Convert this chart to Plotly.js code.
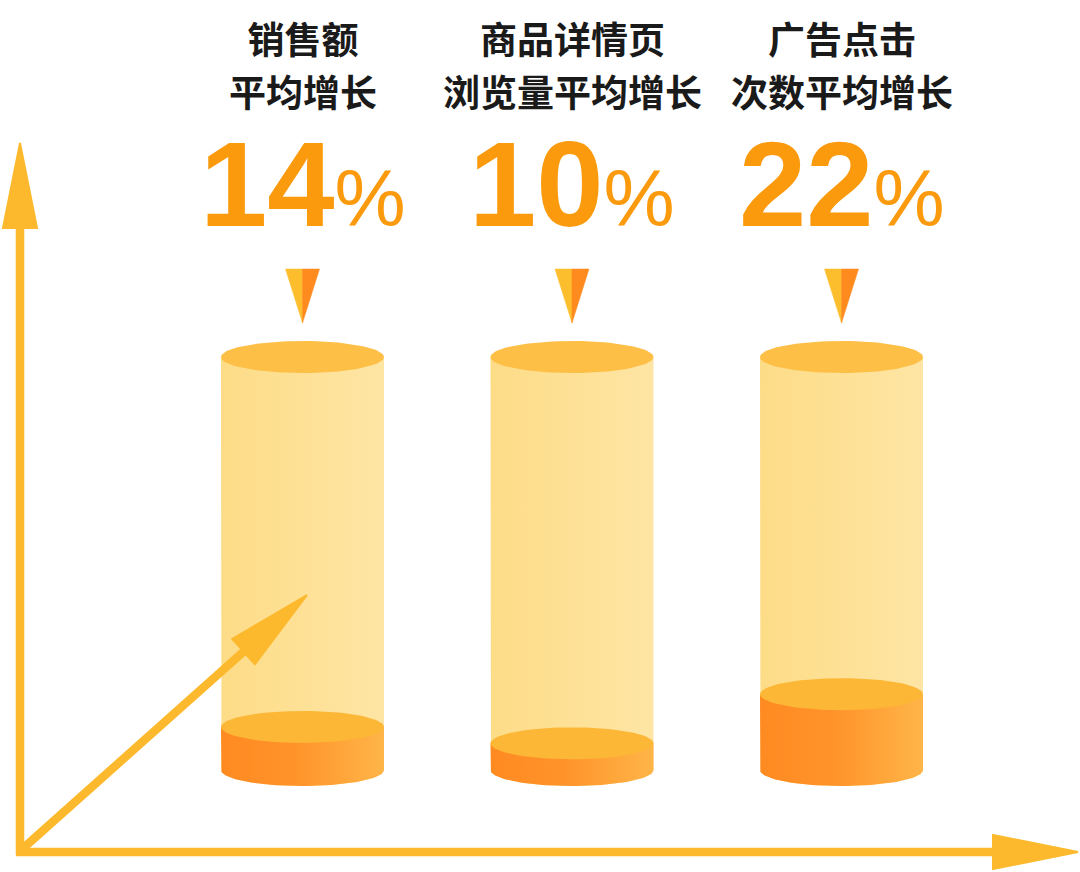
<!DOCTYPE html>
<html><head><meta charset="utf-8">
<script src="https://cdn.plot.ly/plotly-3.0.1.min.js"></script>
<style>html,body{margin:0;padding:0;background:#fff}#chart{width:1080px;height:872px}</style>
</head><body><div id="chart"></div>
<script>
// ---- data ----
const categories = ['销售额平均增长', '商品详情页浏览量平均增长', '广告点击次数平均增长'];
const titleLine1 = ['销售额', '商品详情页', '广告点击'];
const titleLine2 = ['平均增长', '浏览量平均增长', '次数平均增长'];
const growthPct = [14, 10, 22];
const valueLabels = ['14', '10', '22'];

// ---- scales (axes in category-index units and percent units) ----
const W = 1080, H = 872;
const X_RANGE = [-1.12245, 2.88497];
const Y_RANGE = [-21.378, 191.305];
const BASE = 3.5;            // value at the cylinder bottom
const pxX = (X_RANGE[1] - X_RANGE[0]) / W;   // x units per pixel
const pxY = (Y_RANGE[1] - Y_RANGE[0]) / H;   // y units per pixel
const yFromPx = py => Y_RANGE[1] - py * pxY;

// ---- sizes / styles ----
const RX = 81.5 * pxX, RY = 16 * pxY;
const CAP = yFromPx(357);
const PTR_TOP = yFromPx(269), PTR_TIP = yFromPx(323), PTR_HALF = 17 * pxX;
const AX_COLOR = '#FDB92D';

function ellipsePts(cx, cy, t0, t1, n) {
  const xs = [], ys = [];
  for (let k = 0; k <= n; k++) {
    const t = t0 + (t1 - t0) * k / n;
    xs.push(cx + RX * Math.cos(t)); ys.push(cy + RY * Math.sin(t));
  }
  return [xs, ys];
}
function bodyTrace(cx, top, scale) {
  const [ax, ay] = ellipsePts(cx, BASE, Math.PI, 2 * Math.PI, 60);
  return {
    type: 'scatter', mode: 'lines', hoverinfo: 'skip',
    x: [cx - RX, ...ax, cx + RX, cx - RX],
    y: [top, ...ay, top, top],
    fill: 'toself', line: {width: 0, color: 'rgba(0,0,0,0)'},
    fillgradient: {type: 'horizontal', colorscale: scale}
  };
}
function ellipseTrace(cx, cy, color) {
  const [ex, ey] = ellipsePts(cx, cy, 0, 2 * Math.PI, 90);
  return {type: 'scatter', mode: 'lines', hoverinfo: 'skip', x: ex, y: ey,
    fill: 'toself', fillcolor: color, line: {width: 0, color: 'rgba(0,0,0,0)'}};
}
function triTrace(xs, ys, color) {
  return {type: 'scatter', mode: 'lines', hoverinfo: 'skip', x: xs, y: ys,
    fill: 'toself', fillcolor: color, line: {width: 0.5, color: color}};
}

const CJK = '"Noto Sans CJK SC", "Noto Sans", sans-serif';
const NUMF = '"Liberation Sans", Arial, sans-serif';
const traces = [];
const annotations = [];
categories.forEach((c, i) => {
  const v = growthPct[i];
  traces.push(bodyTrace(i, CAP, [[0, '#FDDC87'], [0.5, '#FEE196'], [1, '#FEE5A4']]));
  traces.push(bodyTrace(i, v, [[0, '#FF8A22'], [0.45, '#FF932A'], [1, '#FFB548']]));
  traces.push(ellipseTrace(i, v, '#FDB736'));
  traces.push(ellipseTrace(i, CAP, '#FDBF45'));
  traces.push(triTrace([i - PTR_HALF, i, i, i - PTR_HALF], [PTR_TOP, PTR_TOP, PTR_TIP, PTR_TOP], '#FDBE2E'));
  traces.push(triTrace([i, i + PTR_HALF, i, i], [PTR_TOP, PTR_TOP, PTR_TIP, PTR_TOP], '#FF8B1E'));

  annotations.push({x: i, xref: 'x', y: 1 - 64 / H, yref: 'paper',
    text: '<span style="font-size:37px">' + titleLine1[i] + '</span><br><span style="font-size:37px">' + titleLine2[i] + '</span>',
    showarrow: false, xanchor: 'center', yanchor: 'middle', align: 'center', valign: 'middle',
    borderpad: 0,
    font: {family: CJK, size: 40.8, color: '#1a1a1a', weight: 700}});
  annotations.push({x: i, xref: 'x', y: 1 - 228 / H, yref: 'paper',
    text: valueLabels[i] + '<span style="font-size:80px;font-weight:400">%</span>',
    showarrow: false, xanchor: 'center', yanchor: 'bottom', valign: 'middle',
    borderpad: 0, yshift: -25,
    font: {family: NUMF, size: 121, color: '#FA9A0C', weight: 700}});
});

// decorative axis arrows (pixel geometry -> paper coords)
function arrowPath(x0, y0, x1, y1, sw, hl, hh) {
  const dx = x1 - x0, dy = y1 - y0, L = Math.hypot(dx, dy);
  const ux = dx / L, uy = dy / L, nx = -uy, ny = ux;
  const bx = x1 - ux * hl, by = y1 - uy * hl;
  const pts = [
    [x0 + nx * sw / 2, y0 + ny * sw / 2], [bx + nx * sw / 2, by + ny * sw / 2],
    [bx + nx * hh, by + ny * hh], [x1, y1], [bx - nx * hh, by - ny * hh],
    [bx - nx * sw / 2, by - ny * sw / 2], [x0 - nx * sw / 2, y0 - ny * sw / 2]
  ];
  return pts.map((p, k) => (k ? 'L' : 'M') + (p[0] / W).toFixed(5) + ',' + (1 - p[1] / H).toFixed(5)).join(' ') + ' Z';
}
const arrowDefs = [
  [20, 854, 20, 143], [17, 852, 1078, 852], [20, 851, 307, 595]
];
const shapes = arrowDefs.map(a => ({
  type: 'path', xref: 'paper', yref: 'paper', layer: 'above',
  path: arrowPath(a[0], a[1], a[2], a[3], 6.5, 85, 17),
  fillcolor: AX_COLOR, line: {color: AX_COLOR, width: 2}
}));

const layout = {
  width: W, height: H, margin: {l: 0, r: 0, t: 0, b: 0},
  paper_bgcolor: '#ffffff', plot_bgcolor: '#ffffff', showlegend: false, hovermode: false,
  xaxis: {range: X_RANGE, visible: false, fixedrange: true},
  yaxis: {range: Y_RANGE, visible: false, fixedrange: true},
  annotations: annotations, shapes: shapes
};
Plotly.newPlot('chart', traces, layout, {staticPlot: true, displayModeBar: false});
</script></body></html>
